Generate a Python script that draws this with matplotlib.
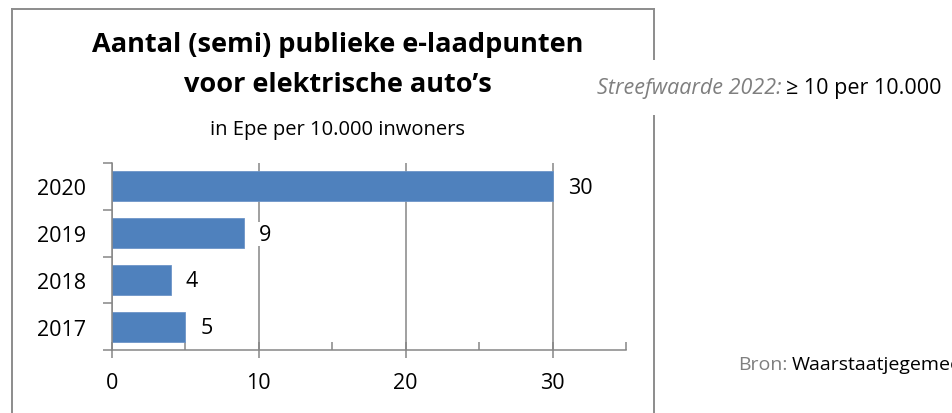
import matplotlib
matplotlib.use("Agg")
import matplotlib.pyplot as plt
from matplotlib.lines import Line2D
from matplotlib.ticker import MultipleLocator

plt.rcParams['font.family'] = ['Open Sans', 'DejaVu Sans']

# Data
years = ["2017", "2018", "2019", "2020"]
values = [5, 4, 9, 30]
x_ticks = [0, 10, 20, 30]

title_lines = ["Aantal (semi) publieke e-laadpunten", "voor elektrische auto\u2019s"]
subtitle = "in Epe per 10.000 inwoners"
target_label = "Streefwaarde 2022:"
target_value = "\u2265 10 per 10.000"
source_label = "Bron:"
source_value = "Waarstaatjegemeente.nl"

W, H = 952, 414
fig = plt.figure(figsize=(W / 100, H / 100), dpi=100)
fig.patch.set_facecolor("white")

def fx(px):
    return px / W

def fy(py):
    return 1 - py / H

# Chart frame (open at the bottom)
frame_kw = dict(color="#8c8c8c", lw=1.4, transform=fig.transFigure, zorder=1)
fig.add_artist(Line2D([fx(12), fx(12)], [fy(10), fy(H + 5)], **frame_kw))
fig.add_artist(Line2D([fx(12), fx(654)], [fy(10), fy(10)], **frame_kw))
fig.add_artist(Line2D([fx(654), fx(654)], [fy(10), fy(H + 5)], **frame_kw))

ax = fig.add_axes([fx(112), fy(351), fx(626) - fx(112), fy(164) - fy(351)])
ax.set_facecolor("none")

ypos = list(range(len(years)))
bars = ax.barh(ypos, values, height=0.64, color="#4f81bd", edgecolor="#6d95c8",
               linewidth=0.6, zorder=3)

ax.set_xlim(0, 35)
ax.set_ylim(-0.5, len(years) - 0.5)

grid_color = "#868686"
label_size = 15.5
ax.set_xticks(x_ticks)
ax.xaxis.set_minor_locator(MultipleLocator(5))
ax.grid(axis="x", which="major", color=grid_color, lw=1.1, zorder=0)
ax.tick_params(axis="x", which="major", direction="inout", length=11, width=1.1,
               color=grid_color, labelsize=label_size, pad=10)
ax.tick_params(axis="x", which="minor", direction="in", length=5.5, width=1.1,
               color=grid_color)

ax.set_yticks([p - 0.5 for p in ypos] + [len(years) - 0.5])
ax.set_yticklabels([])
ax.set_yticks(ypos, minor=True)
ax.set_yticklabels(years, minor=True)
ax.tick_params(axis="y", which="major", direction="out", length=6.5, width=1.1,
               color=grid_color)
ax.tick_params(axis="y", which="minor", length=0, labelsize=label_size, pad=18.5)

for side in ("top", "right"):
    ax.spines[side].set_visible(False)
for side in ("left", "bottom"):
    ax.spines[side].set_color(grid_color)
    ax.spines[side].set_linewidth(1.1)
    ax.spines[side].set_zorder(4)

for bar, v in zip(bars, values):
    ax.annotate(f"{v}", (bar.get_width(), bar.get_y() + bar.get_height() / 2),
                xytext=(15, -1), textcoords="offset pixels", ha="left", va="center",
                fontsize=label_size, color="black", zorder=5,
                bbox=dict(facecolor="white", edgecolor="none", pad=1))

# Titles
fig.text(fx(338), fy(45), title_lines[0], ha="center", va="center",
         fontsize=19.5, fontweight="bold")
fig.text(fx(338), fy(85), title_lines[1], ha="center", va="center",
         fontsize=19.5, fontweight="bold")
fig.text(fx(338), fy(130), subtitle, ha="center", va="center", fontsize=14.5)

# Target annotation (covers the frame line behind it)
t1 = fig.text(fx(597), fy(94), target_label, ha="left", va="baseline",
              fontsize=15.5, style="italic", color="#7f7f7f", zorder=3,
              bbox=dict(facecolor="white", edgecolor="none", pad=12))
fig.canvas.draw()
bb = t1.get_window_extent()
fig.text((bb.x1 + 5) / W, fy(94), target_value, ha="left", va="baseline",
         fontsize=15.5, color="black", zorder=3)

# Source line
s1 = fig.text(fx(738), fy(370), source_label, ha="left", va="baseline",
              fontsize=14, color="#7f7f7f")
fig.canvas.draw()
bb = s1.get_window_extent()
fig.text((bb.x1 + 4) / W, fy(370), source_value, ha="left", va="baseline",
         fontsize=14, color="black")

fig.savefig("out.png", dpi=100)
